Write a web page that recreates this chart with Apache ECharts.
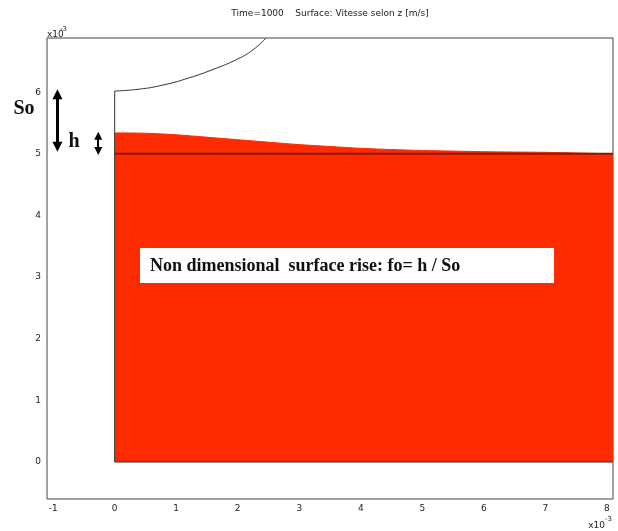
<!DOCTYPE html>
<html><head><meta charset="utf-8">
<script src="https://cdn.jsdelivr.net/npm/echarts@6/dist/echarts.min.js"></script>
<style>html,body{margin:0;padding:0;background:#fff}#c{width:618px;height:531px}</style>
</head><body><div id="c"></div>
<script>
// tick labels (units of 1e-3 m)
const xTicks = [-1, 0, 1, 2, 3, 4, 5, 6, 7, 8];
const yTicks = [0, 1, 2, 3, 4, 5, 6];
// free surface of the liquid domain
const surfaceX = [0, 0.5, 1, 1.5, 2, 2.5, 3, 3.5, 4, 4.5, 5, 5.5, 6, 6.5, 7, 7.5, 8.1];
const surfaceY = [5.34, 5.335, 5.31, 5.27, 5.23, 5.19, 5.15, 5.12, 5.09, 5.07, 5.055, 5.045, 5.035, 5.03, 5.025, 5.015, 5.0];
// domain outline (left wall + bottom)
const outlineX = [0, 0, 8.1];
const outlineY = [6.02, 0, 0];
// initial level line
const levelX = [0, 8.1];
const levelY = [5.0, 5.0];
// upper curved boundary
const capX = [0, 0.4, 0.8, 1.2, 1.6, 2.0, 2.25, 2.46];
const capY = [6.02, 6.05, 6.12, 6.23, 6.37, 6.54, 6.69, 6.88];
// annotation arrows: [x, yFrom, yTo]
const soArrow = [-0.93, 5.116, 5.966];
const hArrow = [-0.267, 5.046, 5.295];

const zip = (a, b) => a.map((v, i) => [v, b[i]]);
const RED = '#ff2b00';
const chart = echarts.init(document.getElementById('c'), null, {renderer: 'canvas'});
const lblFont = {fontFamily: 'DejaVu Sans', fontSize: 9, color: '#222'};

chart.setOption({
  animation: false,
  grid: {left: 47, right: 5, top: 38, bottom: 32, show: true, borderColor: '#444', borderWidth: 1, backgroundColor: 'transparent'},
  xAxis: {
    type: 'value', min: -1.1, max: 8.1,
    axisLine: {show: false}, axisTick: {show: false}, splitLine: {show: false},
    axisLabel: Object.assign({customValues: xTicks, margin: 5}, lblFont)
  },
  yAxis: {
    type: 'value', min: -0.6, max: 6.88,
    axisLine: {show: false}, axisTick: {show: false}, splitLine: {show: false},
    axisLabel: Object.assign({customValues: yTicks, margin: 6}, lblFont)
  },
  series: [
    {
      type: 'line', data: zip(surfaceX, surfaceY), symbol: 'none', smooth: 0.3,
      lineStyle: {color: RED, width: 1},
      areaStyle: {color: RED, opacity: 1, origin: 'auto'},
      silent: true, z: 2
    },
    {
      type: 'line', data: zip(levelX, levelY), symbol: 'none',
      lineStyle: {color: '#861a00', width: 2}, silent: true, z: 3
    },
    {
      type: 'line', data: zip(outlineX, outlineY), symbol: 'none',
      lineStyle: {color: '#333', width: 1}, silent: true, z: 4,
      markLine: {
        silent: true, symbol: ['triangle', 'triangle'], label: {show: false},
        emphasis: {disabled: true},
        data: [
          [{coord: [soArrow[0], soArrow[1]], symbolSize: 10, lineStyle: {color: '#000', width: 3, type: 'solid'}},
           {coord: [soArrow[0], soArrow[2]], symbolSize: 10}],
          [{coord: [hArrow[0], hArrow[1]], symbolSize: 8, lineStyle: {color: '#000', width: 2, type: 'solid'}},
           {coord: [hArrow[0], hArrow[2]], symbolSize: 8}]
        ],
        lineStyle: {color: '#000', type: 'solid'},
        itemStyle: {color: '#000'}
      }
    },
    {
      type: 'line', data: zip(capX, capY), symbol: 'none', smooth: 0.5,
      lineStyle: {color: '#333', width: 1}, silent: true, z: 4
    }
  ],
  graphic: [
    {type: 'text', x: 330, y: 14, style: {text: 'Time=1000    Surface: Vitesse selon z [m/s]', font: '9px "DejaVu Sans"', fill: '#222', textAlign: 'center', textVerticalAlign: 'middle'}},
    {type: 'text', x: 47, y: 34.5, style: {text: 'x10', font: '9px "DejaVu Sans"', fill: '#222', textAlign: 'left', textVerticalAlign: 'middle'}},
    {type: 'text', x: 60, y: 29, style: {text: '-3', font: '7px "DejaVu Sans"', fill: '#222', textAlign: 'left', textVerticalAlign: 'middle'}},
    {type: 'text', x: 605, y: 525.5, style: {text: 'x10', font: '9px "DejaVu Sans"', fill: '#222', textAlign: 'right', textVerticalAlign: 'middle'}},
    {type: 'text', x: 605, y: 519.5, style: {text: '-3', font: '7px "DejaVu Sans"', fill: '#222', textAlign: 'left', textVerticalAlign: 'middle'}},
    {type: 'text', x: 24, y: 109, style: {text: 'So', font: 'bold 20px "Liberation Serif"', fill: '#111', textAlign: 'center', textVerticalAlign: 'middle'}},
    {type: 'text', x: 74, y: 142, style: {text: 'h', font: 'bold 20px "Liberation Serif"', fill: '#111', textAlign: 'center', textVerticalAlign: 'middle'}},
    {type: 'rect', shape: {x: 140, y: 248, width: 414, height: 35}, style: {fill: '#fff'}, z: 10},
    {type: 'text', x: 150, y: 266, z: 11, style: {text: 'Non dimensional  surface rise: fo= h / So', font: 'bold 18px "Liberation Serif"', fill: '#111', textAlign: 'left', textVerticalAlign: 'middle'}}
  ]
});
</script>
</body></html>
